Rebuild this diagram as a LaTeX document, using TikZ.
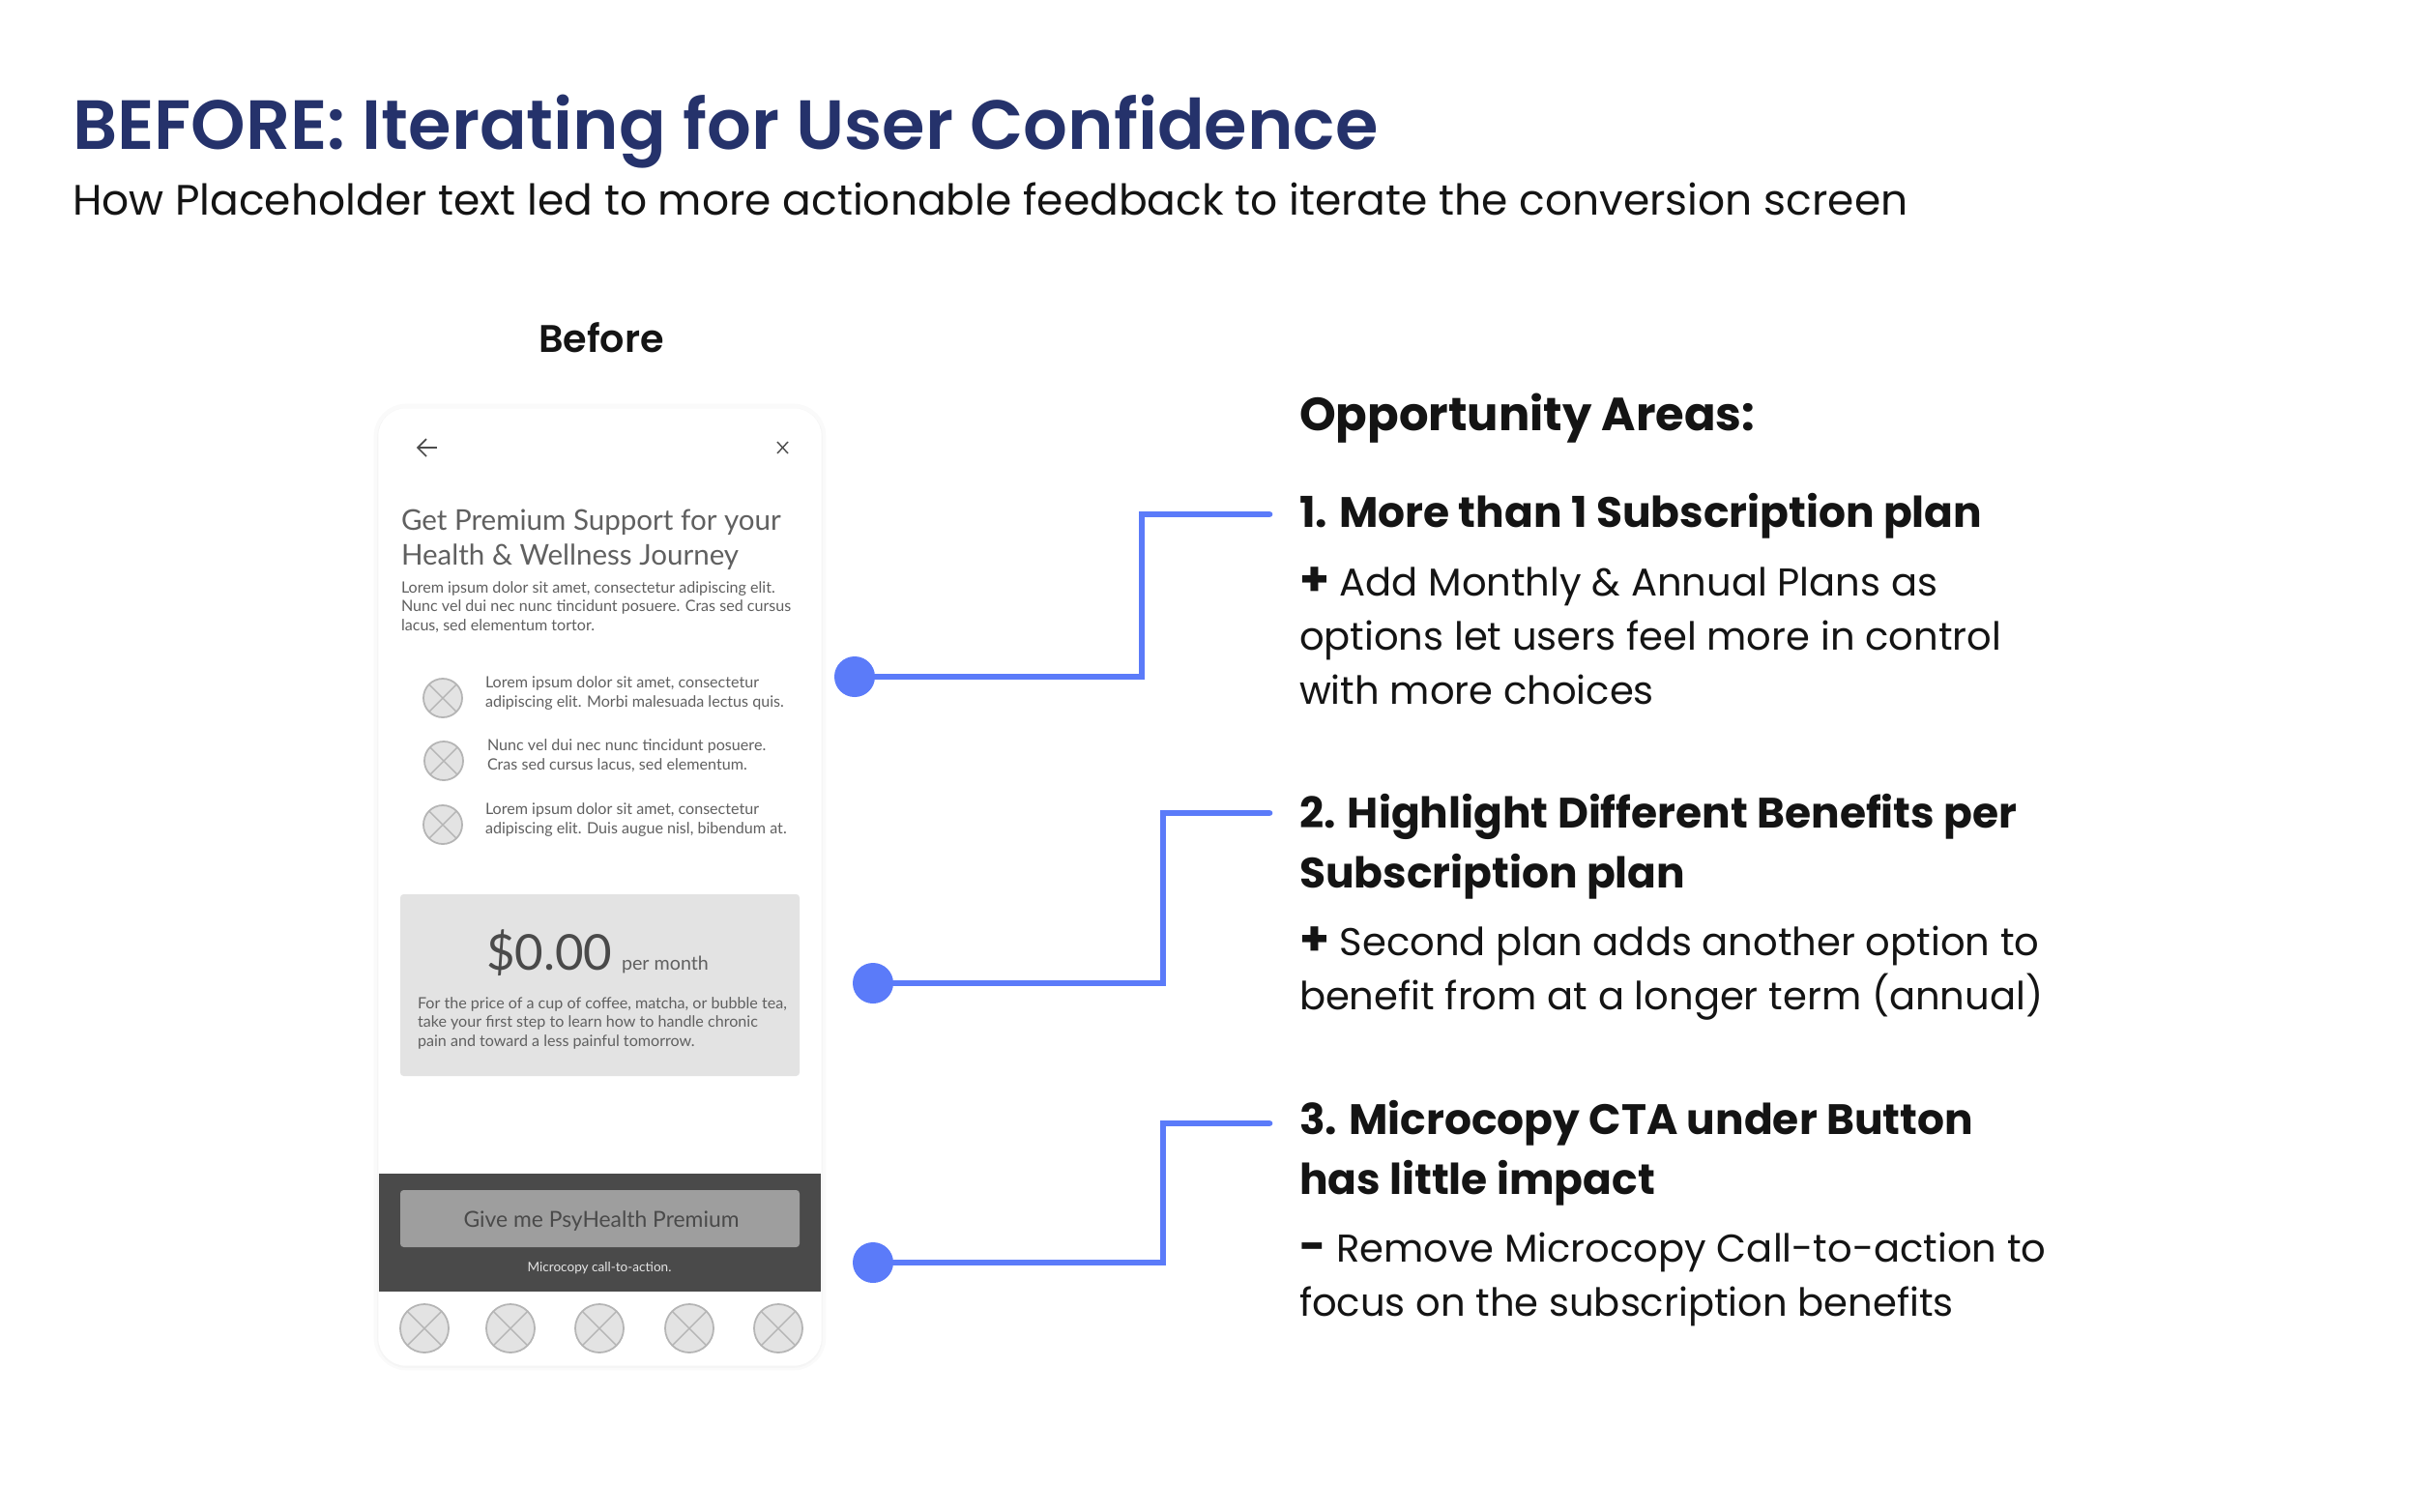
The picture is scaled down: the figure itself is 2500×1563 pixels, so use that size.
\documentclass[tikz,border=0pt]{standalone}
\usepackage{fontspec}
\setmainfont{Poppins}
\newfontfamily\popsemi{Poppins SemiBold}
\newfontfamily\popbold{Poppins Bold}
\newfontfamily\phonefont{Lato}
\usetikzlibrary{positioning}
\definecolor{navy}{HTML}{25326B}
\definecolor{ink}{HTML}{141414}
\definecolor{linkblue}{HTML}{5B7BF9}
\definecolor{phonetext}{HTML}{606060}
\definecolor{phdark}{HTML}{4A4A4A}
\definecolor{phgrey}{HTML}{E3E3E3}
\definecolor{phbtn}{HTML}{9E9E9E}
\definecolor{phline}{HTML}{B5B5B5}
\newcommand{\plusmark}{{\popbold\fontsize{14}{14}\selectfont +}}
\newcommand{\minusmark}{{\popbold\fontsize{13.4}{14}\selectfont -}}
\tikzset{
  every node/.style={inner sep=0pt, outer sep=0pt},
  txt/.style={anchor=base west, align=left, text=ink},
  mainhead/.style={txt, text=navy, font=\popsemi\fontsize{20.47}{25}\selectfont},
  subhead/.style={txt, font=\fontsize{12.5}{15.8}\selectfont},
  areatitle/.style={txt, font=\popbold\fontsize{13.66}{17.6}\selectfont},
  areahead/.style={txt, font=\popbold\fontsize{12.5}{17.6}\selectfont},
  areabody/.style={txt, font=\fontsize{11.4}{15.8}\selectfont},
  phhead/.style={txt, text=phonetext, font=\phonefont\fontsize{8.4}{10}\selectfont},
  phsmall/.style={txt, text=phonetext, font=\phonefont\fontsize{4.58}{5.5}\selectfont},
  phicon/.style={circle, draw=phline, fill=phgrey, line width=0.5pt,
    path picture={\draw[phline, line width=0.4pt]
      (path picture bounding box.north west) -- (path picture bounding box.south east)
      (path picture bounding box.north east) -- (path picture bounding box.south west);}},
  phicona/.style={phicon, minimum size=0.4cm},
  phiconb/.style={phicon, minimum size=0.5cm},
  dot/.style={circle, fill=linkblue, minimum size=0.42cm},
  link/.style={draw=linkblue, line width=1.9pt, line cap=round, line join=miter}
}
\begin{document}
\begin{tikzpicture}[x=0.01cm, y=-0.01cm]
  \useasboundingbox (0, 0) rectangle (2500, 1563);
  \fill [white] (0, 0) rectangle (2500, 1563);

  % Heading
  \node [mainhead] (title) at (75, 154) {BEFORE: Iterating for User Confidence};
  \node [subhead] (subtitle) at (75, 222) {How Placeholder text led to more actionable feedback to iterate the conversion screen};
  \node [txt, anchor=base, font=\popsemi\fontsize{11.3}{14}\selectfont] (before) at (622, 364) {Before};

  % Phone
  \draw [black!2, line width=3pt, rounded corners=8] (392, 423) rectangle (849, 1412);
  \draw [black!4, line width=1pt, rounded corners=8] (392, 424) rectangle (849, 1413);
  \draw [white, fill=white, rounded corners=8] (392, 423) rectangle (849, 1412);
  \draw [black!70, line width=0.5pt] (452, 463) -- (432, 463);
  \draw [black!70, line width=0.5pt] (441, 454) -- (432, 463) -- (441, 472);
  \draw [black!70, line width=0.4pt] (804, 457) -- (815, 469);
  \draw [black!70, line width=0.4pt] (815, 457) -- (804, 469);

  \node [phhead] (phtitle) at (415, 584) {Get Premium Support for your\\Health \& Wellness Journey};
  \node [phsmall] (phintro) at (415, 652) {Lorem ipsum dolor sit amet, consectetur adipiscing elit.\\Nunc vel dui nec nunc tincidunt posuere. Cras sed cursus\\lacus, sed elementum tortor.};

  \node [phicona] (iconA) at (458, 722) {};
  \node [phicona] (iconB) at (459, 787) {};
  \node [phicona] (iconC) at (458, 853) {};
  \node [phsmall] (itemA) at (502, 731) {Lorem ipsum dolor sit amet, consectetur\\adipiscing elit. Morbi malesuada lectus quis.};
  \node [phsmall] (itemB) at (504, 796) {Nunc vel dui nec nunc tincidunt posuere.\\Cras sed cursus lacus, sed elementum.};
  \node [phsmall] (itemC) at (502, 862) {Lorem ipsum dolor sit amet, consectetur\\adipiscing elit. Duis augue nisl, bibendum at.};

  % Price box
  \fill [phgrey, rounded corners=1] (414, 925) rectangle (827, 1113);
  \node [txt, text=phdark, font=\phonefont\fontsize{14.5}{18}\selectfont] (price) at (503, 1003) {\$0.00};
  \node [phsmall, font=\phonefont\fontsize{5.6}{7}\selectfont] (permonth) at (643, 1003) {per month};
  \node [phsmall] (pricetext) at (432, 1082) {For the price of a cup of coffee, matcha, or bubble tea,\\take your first step to learn how to handle chronic\\pain and toward a less painful tomorrow.};

  % Button bar
  \fill [phdark] (392, 1214) rectangle (849, 1336);
  \fill [phbtn, rounded corners=1] (414, 1231) rectangle (827, 1290);
  \node [txt, anchor=base, text=phdark, font=\phonefont\fontsize{6.5}{8}\selectfont] (button) at (622, 1269) {Give me PsyHealth Premium};
  \node [txt, anchor=base, text=black!10, font=\phonefont\fontsize{3.86}{5}\selectfont] (microcopy) at (620, 1315) {Microcopy call-to-action.};

  \node [phiconb] (navA) at (439, 1374) {};
  \node [phiconb] (navB) at (528, 1374) {};
  \node [phiconb] (navC) at (620, 1374) {};
  \node [phiconb] (navD) at (713, 1374) {};
  \node [phiconb] (navE) at (805, 1374) {};

  % Opportunity areas
  \node [areatitle] (areas) at (1344, 445) {Opportunity Areas:};
  \node [areahead] (areaA) at (1344, 545.5) {1. More than 1 Subscription plan};
  \node [areabody] (bodyA) at (1344, 728) {\plusmark{} Add Monthly \& Annual Plans as\\options let users feel more in control\\with more choices};
  \node [areahead] (areaB) at (1344, 918.5) {2. Highlight Different Benefits per\\Subscription plan};
  \node [areabody] (bodyB) at (1344, 1044.5) {\plusmark{} Second plan adds another option to\\benefit from at a longer term (annual)};
  \node [areahead] (areaC) at (1344, 1235.5) {3. Microcopy CTA under Button\\has little impact};
  \node [areabody] (bodyC) at (1344, 1361.5) {\minusmark{} Remove Microcopy Call-to-action to\\focus on the subscription benefits};

  % Connectors
  \node [dot] (dotA) at (884, 700) {};
  \node [dot] (dotB) at (903, 1017) {};
  \node [dot] (dotC) at (903, 1306) {};
  \coordinate (kneeA) at (1181, 532);
  \coordinate (kneeB) at (1203, 841);
  \coordinate (kneeC) at (1203, 1162);
  \coordinate (endA) at (1313, 532);
  \coordinate (endB) at (1313, 841);
  \coordinate (endC) at (1313, 1162);
  \draw [link] (dotA) -| (kneeA) -- (endA);
  \draw [link] (dotB) -| (kneeB) -- (endB);
  \draw [link] (dotC) -| (kneeC) -- (endC);
\end{tikzpicture}
\end{document}
